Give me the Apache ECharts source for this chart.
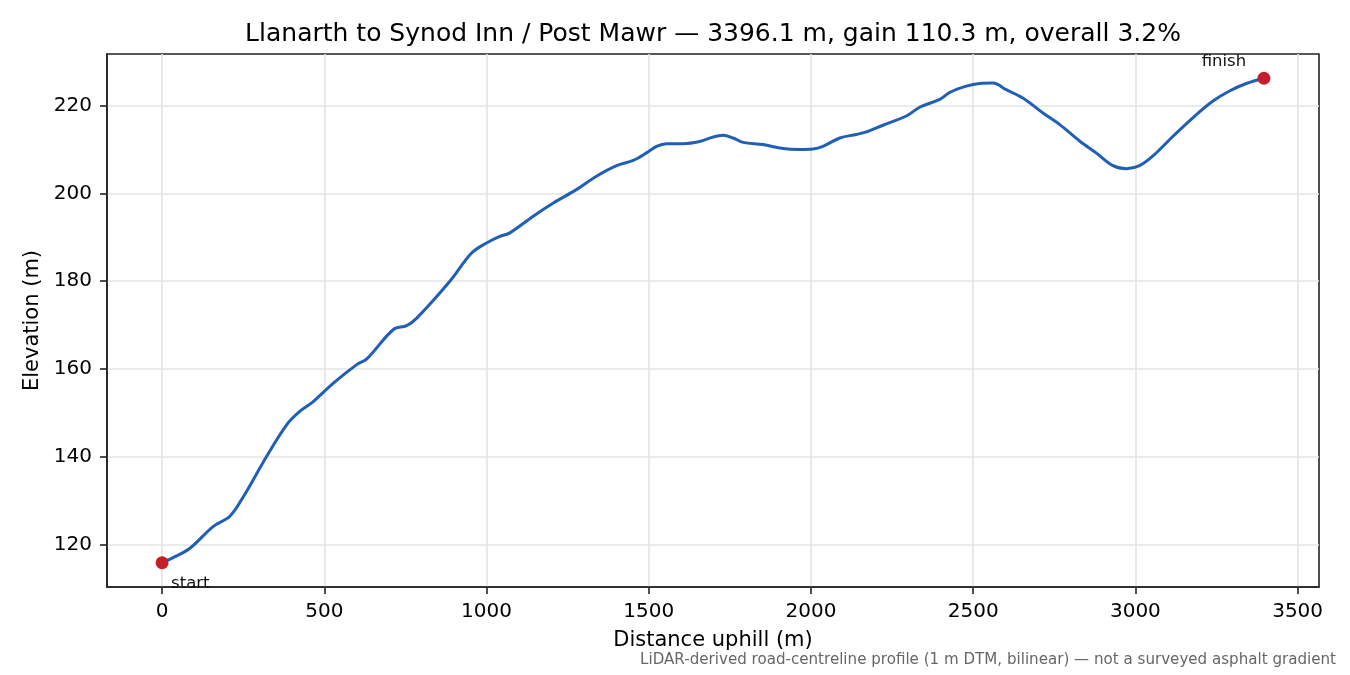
<!DOCTYPE html>
<html>
<head>
<meta charset="utf-8">
<script src="https://cdn.jsdelivr.net/npm/echarts@6/dist/echarts.min.js"></script>
<style>
  html, body { margin: 0; padding: 0; background: #fff; }
  #chart { width: 1350px; height: 675px; }
</style>
</head>
<body>
<div id="chart"></div>
<script>
// 距离 (m) 与高程 (m)
const distance = [0, 40, 86, 158, 209, 251, 322, 384, 425, 466, 528, 600, 631, 713, 754, 785, 887, 954, 1000, 1041, 1072, 1144, 1206, 1278, 1339, 1401, 1452, 1493, 1524, 1555, 1606, 1657, 1698, 1729, 1760, 1791, 1852, 1914, 1965, 2006, 2037, 2089, 2140, 2171, 2222, 2294, 2335, 2397, 2428, 2479, 2520, 2561, 2602, 2653, 2715, 2766, 2828, 2879, 2931, 2972, 3013, 3054, 3116, 3177, 3239, 3290, 3342, 3396.1];
const elevation = [115.9, 117.3, 119.2, 124.2, 126.5, 131.0, 140.1, 147.3, 150.4, 152.6, 156.8, 161.0, 162.3, 169.0, 169.9, 171.6, 180.0, 186.4, 188.7, 190.2, 191.0, 194.8, 197.8, 200.9, 203.9, 206.3, 207.5, 209.2, 210.7, 211.3, 211.3, 211.8, 212.8, 213.2, 212.6, 211.6, 211.1, 210.2, 210.0, 210.1, 210.7, 212.6, 213.4, 214.0, 215.5, 217.6, 219.6, 221.4, 223.0, 224.4, 225.0, 225.1, 223.6, 221.7, 218.3, 215.7, 211.9, 209.2, 206.3, 205.6, 206.3, 208.5, 213.0, 217.2, 221.0, 223.3, 225.0, 226.2];

const endpointNames = ['start', 'finish'];
const xTicks = [0, 500, 1000, 1500, 2000, 2500, 3000, 3500];
const yTicks = [120, 140, 160, 180, 200, 220];

const TITLE = 'Llanarth to Synod Inn / Post Mawr — 3396.1 m, gain 110.3 m, overall 3.2%';
const NOTE = 'LiDAR-derived road-centreline profile (1 m DTM, bilinear) — not a surveyed asphalt gradient';

const FONT = 'DejaVu Sans';
const COLORS = {
  line: '#1f5fb5',
  marker: '#c41e2a',
  text: '#000000',
  axis: '#222222',
  grid: '#e4e4e4',
  note: '#666666',
};

// matplotlib 风格的 5% 边距
const xSpan = distance[distance.length - 1] - distance[0];
const yLo = Math.min(...elevation), yHi = Math.max(...elevation);
const xMin = distance[0] - xSpan * 0.05;
const xMax = distance[distance.length - 1] + xSpan * 0.05;
const yMin = yLo - (yHi - yLo) * 0.05;
const yMax = yHi + (yHi - yLo) * 0.05;

const profile = distance.map((d, i) => [d, elevation[i]]);
const lastIdx = distance.length - 1;
const endpoints = [
  { value: [distance[0], elevation[0]], name: endpointNames[0],
    label: { offset: [9, 21], align: 'left' } },
  { value: [distance[lastIdx], elevation[lastIdx]], name: endpointNames[1],
    label: { offset: [-40, -17], align: 'center' } },
];

const axisCommon = {
  axisLine: { show: true, onZero: false, lineStyle: { color: COLORS.axis, width: 1.6 } },
  axisTick: { show: true, inside: false, length: 7, lineStyle: { color: COLORS.axis, width: 1.6 } },
  splitLine: { show: true, lineStyle: { color: COLORS.grid, width: 1.6 } },
  nameTextStyle: { fontFamily: FONT, fontSize: 21, color: COLORS.text },
};
const tickLabel = { fontFamily: FONT, fontSize: 20, color: COLORS.text, formatter: v => String(v) };

const chart = echarts.init(document.getElementById('chart'), null, { renderer: 'canvas' });
chart.setOption({
  animation: false,
  backgroundColor: '#fff',
  title: {
    text: TITLE,
    left: 713, top: 22, textAlign: 'center', padding: 0,
    textStyle: { fontFamily: FONT, fontSize: 25, fontWeight: 'normal', color: COLORS.text },
  },
  grid: {
    left: 107, right: 31, top: 54, bottom: 88,
    show: true, borderColor: COLORS.axis, borderWidth: 1.6, backgroundColor: 'transparent',
  },
  xAxis: {
    type: 'value', min: xMin, max: xMax,
    name: 'Distance uphill (m)', nameLocation: 'middle', nameGap: 43,
    ...axisCommon,
    axisTick: { ...axisCommon.axisTick, customValues: xTicks },
    axisLabel: { ...tickLabel, customValues: xTicks, margin: 15 },
  },
  yAxis: {
    type: 'value', min: yMin, max: yMax,
    name: 'Elevation (m)', nameLocation: 'middle', nameGap: 61,
    ...axisCommon,
    axisTick: { ...axisCommon.axisTick, customValues: yTicks },
    axisLabel: { ...tickLabel, customValues: yTicks, margin: 15 },
  },
  series: [
    {
      type: 'line', data: profile, smooth: 0.35, showSymbol: false,
      lineStyle: { color: COLORS.line, width: 3 },
      z: 2,
    },
    {
      type: 'scatter', data: endpoints, symbolSize: 13,
      itemStyle: { color: COLORS.marker, opacity: 1 },
      label: {
        show: true, formatter: '{b}', position: 'inside',
        fontFamily: FONT, fontSize: 16.5, color: '#111',
      },
      z: 3,
    },
  ],
  graphic: [
    {
      type: 'text', right: 14, top: 653,
      style: { text: NOTE, fontFamily: FONT, fontSize: 15.1, fill: COLORS.note },
    },
  ],
});
</script>
</body>
</html>
